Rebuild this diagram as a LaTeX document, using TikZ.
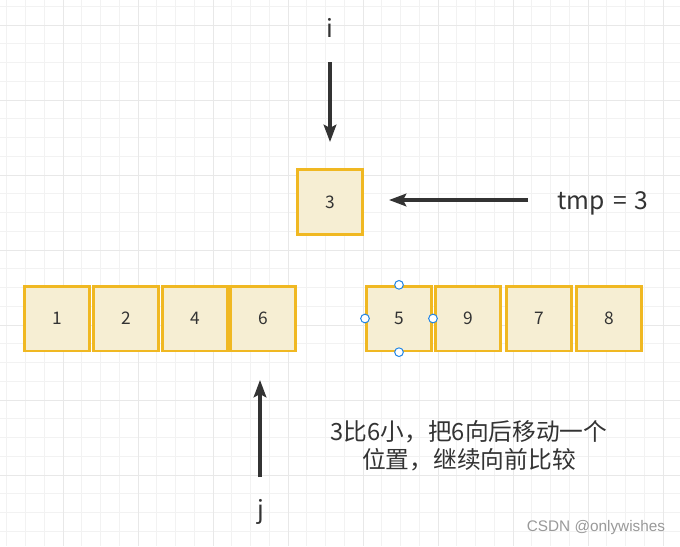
\documentclass[tikz,border=0pt]{standalone}
\usepackage{fontspec}
\setmainfont{Noto Sans CJK SC}
\newfontfamily\markfont{Liberation Sans}
\usepackage{xcolor}
\usetikzlibrary{arrows.meta}

\definecolor{cellfill}{RGB}{246,238,211}
\definecolor{celledge}{RGB}{240,184,34}
\definecolor{inkgray}{RGB}{51,51,51}
\definecolor{handleblue}{RGB}{33,133,230}

\begin{document}
\begin{tikzpicture}[
  x=0.75pt, y=-0.75pt,
  gridminor/.style={draw=black!5, line width=0.75pt},
  gridmajor/.style={draw=black!9, line width=0.75pt},
  cell/.style={draw=celledge, fill=cellfill, line width=2pt,
               minimum width=49pt, minimum height=48.5pt, inner sep=0pt,
               text=inkgray, font=\fontsize{13pt}{15pt}\selectfont},
  lbl/.style={text=inkgray, font=\fontsize{18.5pt}{21pt}\selectfont, inner sep=0pt},
  arr/.style={-{Stealth[length=13pt, width=9.5pt, inset=2.5pt]},
              line width=2.3pt, draw=inkgray},
  handle/.style={circle, draw=handleblue, fill=white, line width=0.75pt,
                 minimum size=6.5pt, inner sep=0pt},
]
  \useasboundingbox (0,0) rectangle (680,546);
  \fill[white] (0,0) rectangle (680,546);

  % grid
  \foreach \k in {0,...,36}
    \draw[gridminor] ({6.75+18.75*\k},0) -- ({6.75+18.75*\k},546);
  \foreach \k in {0,...,29}
    \draw[gridminor] (0,{6.25+18.75*\k}) -- (680,{6.25+18.75*\k});
  \foreach \k in {0,...,8}
    \draw[gridmajor] ({63+75*\k},0) -- ({63+75*\k},546);
  \foreach \k in {0,...,6}
    \draw[gridmajor] (0,{25+75*\k}) -- (680,{25+75*\k});

  % the element held in tmp
  \node[cell] (tmpcell) at (330,202) {3};

  % array
  \node[cell] (c1) at (57,318.5) {1};
  \node[cell] (c2) at (126,318.5) {2};
  \node[cell] (c4) at (195,318.5) {4};
  \node[cell] (c6) at (263,318.5) {6};
  \node[cell] (c5) at (399,318.5) {5};
  \node[cell] (c9) at (468,318.5) {9};
  \node[cell] (c7) at (539,318.5) {7};
  \node[cell] (c8) at (609,318.5) {8};

  % selection handles
  \node[handle] at (c5.north) {};
  \node[handle] at (c5.south) {};
  \node[handle] at (c5.west) {};
  \node[handle] at (c5.east) {};

  % labels
  \node[lbl] (ilbl) at (330,28) {i};
  \node[lbl] (jlbl) at (261,512) {j};
  \node[lbl] (tmplbl) at (603,203) {tmp\hspace{6pt}=\hspace{6pt}3};
  \node[lbl, align=center, font=\fontsize{17.8pt}{21pt}\selectfont] (note) at (469,446)
    {3比6小，把6向后移动一个\\位置，继续向前比较};
  \node[text=black!40, font=\markfont\fontsize{11.5pt}{13pt}\selectfont]
    (mark) at (596,528) {CSDN @onlywishes};

  % pointers
  \coordinate (itail) at (330,62);
  \coordinate (itip) at (330,142);
  \coordinate (ttail) at (528,200);
  \coordinate (ttip) at (389,200);
  \coordinate (jtail) at (260,477);
  \coordinate (jtip) at (260,380);

  \draw[arr] (itail) -- (itip);
  \draw[arr] (ttail) -- (ttip);
  \draw[arr] (jtail) -- (jtip);
\end{tikzpicture}
\end{document}
